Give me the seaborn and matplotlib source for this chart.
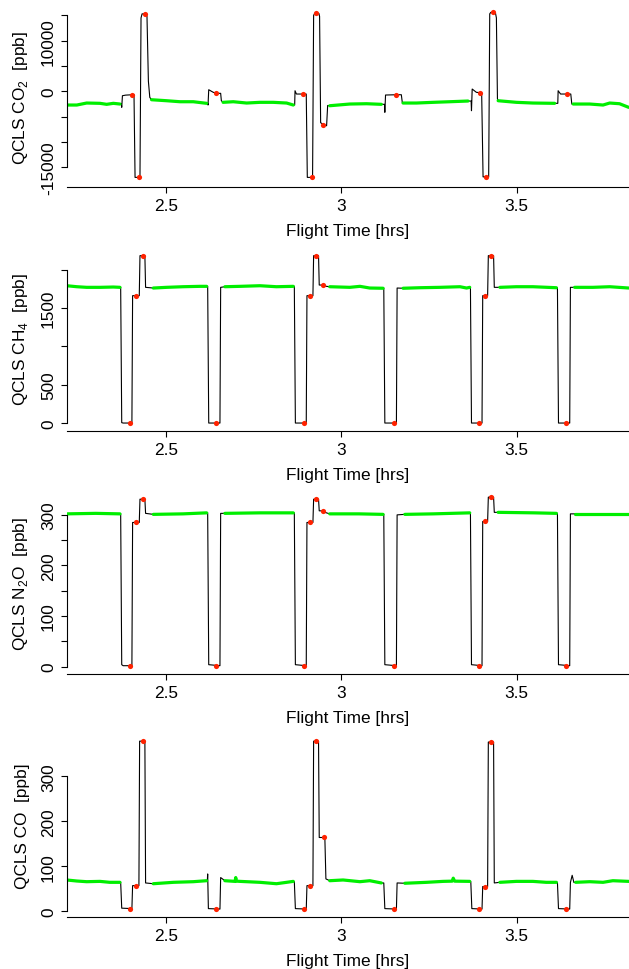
import numpy as np
import pandas as pd
import matplotlib
matplotlib.use("Agg")
import matplotlib.pyplot as plt
import seaborn as sns

# ---------------- data ----------------
# CO2 [ppb]: black trace knots
co2_t = [2.217, 2.246, 2.274, 2.312, 2.331, 2.350, 2.369,
         2.373, 2.374, 2.376, 2.385, 2.405, 2.409, 2.412, 2.426, 2.429, 2.432, 2.443, 2.446, 2.450, 2.454, 2.459,
         2.502, 2.540, 2.578, 2.616,
         2.619, 2.620, 2.622, 2.635, 2.646, 2.656, 2.658, 2.663,
         2.692, 2.730, 2.768, 2.806, 2.844, 2.863,
         2.867, 2.868, 2.872, 2.900, 2.903, 2.918, 2.921, 2.924, 2.936, 2.938, 2.941, 2.950, 2.958, 2.961, 2.967,
         3.024, 3.072, 3.114,
         3.123, 3.124, 3.126, 3.160, 3.171, 3.174, 3.176,
         3.214, 3.262, 3.309, 3.361,
         3.370, 3.371, 3.373, 3.385, 3.400, 3.404, 3.420, 3.423, 3.426, 3.439, 3.442, 3.445, 3.447,
         3.499, 3.546, 3.608,
         3.617, 3.618, 3.625, 3.654, 3.657, 3.661,
         3.708, 3.746, 3.765, 3.793, 3.819]
co2_v = [-2707, -2707, -2312, -2371, -2569, -2371, -2510,
         -2510, -3160, -870, -750, -672, -672, -17000, -17000, 14500, 15300, 15300, 14800, 2000, -1200, -1660,
         -1857, -2055, -2055, -2371,
         -2371, -2707, 316, -198, -395, -395, -1857, -2174,
         -2055, -2312, -2174, -2174, -2312, -2707,
         -2707, 119, -534, -534, -17000, -17000, 15000, 15400, 15400, 14800, -6200, -6600, -6800, -2800, -2845,
         -2510, -2450, -2569,
         -2569, -4150, -731, -672, -672, -2312, -2312,
         -2312, -2174, -2055, -1917,
         -1917, -3833, 454, -198, -300, -16900, -16900, 15300, 15600, 15600, 14500, -1500, -1857,
         -2174, -2312, -2371,
         -2371, 119, -534, -534, -2510, -2510,
         -2510, -2707, -2312, -2450, -3162]
co2_amb = [(2.217, 2.369), (2.459, 2.616), (2.663, 2.863), (2.967, 3.114),
           (3.176, 3.361), (3.447, 3.608), (3.661, 3.819)]
co2_cal_t = [2.402, 2.422, 2.440, 2.644, 2.891, 2.915, 2.929, 2.948, 3.155, 3.395, 3.413, 3.431, 3.642]
co2_cal_v = [-672, -17000, 15300, -395, -534, -17000, 15400, -6600, -672, -300, -16900, 15600, -534]

# CH4 [ppb]
ch4_t = [2.217, 2.246, 2.274, 2.312, 2.350, 2.369,
         2.371, 2.374, 2.378, 2.403, 2.405, 2.424, 2.426, 2.440, 2.442, 2.464,
         2.502, 2.549, 2.597, 2.616,
         2.619, 2.622, 2.654, 2.656, 2.668,
         2.711, 2.768, 2.815, 2.863,
         2.866, 2.869, 2.900, 2.902, 2.919, 2.921, 2.935, 2.937, 2.950, 2.956, 2.967,
         3.024, 3.053, 3.081, 3.119,
         3.121, 3.124, 3.157, 3.159, 3.176,
         3.224, 3.281, 3.338, 3.357, 3.366,
         3.368, 3.371, 3.401, 3.403, 3.417, 3.419, 3.434, 3.436, 3.452,
         3.499, 3.546, 3.613,
         3.616, 3.619, 3.651, 3.653, 3.665,
         3.717, 3.765, 3.819]
ch4_v = [1792, 1779, 1771, 1771, 1775, 1771,
         1771, 5, 0, 0, 1662, 1662, 2184, 2184, 1771, 1762,
         1771, 1779, 1784, 1784,
         1784, 0, 0, 1771, 1779,
         1784, 1792, 1779, 1784,
         1784, 0, 0, 1662, 1662, 2184, 2184, 1801, 1801, 1785, 1779,
         1771, 1784, 1762, 1759,
         1759, 0, 0, 1762, 1759,
         1766, 1771, 1779, 1762, 1771,
         1771, 0, 0, 1662, 1662, 2184, 2184, 1771, 1771,
         1779, 1779, 1766,
         1766, 0, 0, 1771, 1771,
         1771, 1779, 1762]
ch4_amb = [(2.217, 2.369), (2.464, 2.616), (2.668, 2.863), (2.967, 3.119),
           (3.176, 3.366), (3.452, 3.613), (3.665, 3.819)]
ch4_cal_t = [2.399, 2.416, 2.434, 2.644, 2.893, 2.910, 2.927, 2.948, 3.150, 3.392, 3.409, 3.428, 3.641]
ch4_cal_v = [0, 1662, 2184, 0, 0, 1662, 2184, 1801, 0, 0, 1662, 2184, 0]

# N2O [ppb]
n2o_t = [2.217, 2.300, 2.369,
         2.371, 2.374, 2.378, 2.403, 2.405, 2.424, 2.426, 2.440, 2.442, 2.464,
         2.549, 2.616,
         2.619, 2.622, 2.654, 2.656, 2.668,
         2.768, 2.863,
         2.866, 2.869, 2.900, 2.902, 2.919, 2.921, 2.935, 2.937, 2.950, 2.953, 2.967,
         3.050, 3.119,
         3.121, 3.124, 3.157, 3.159, 3.181,
         3.262, 3.366,
         3.368, 3.371, 3.401, 3.403, 3.417, 3.419, 3.434, 3.436, 3.447,
         3.550, 3.613,
         3.616, 3.619, 3.651, 3.653, 3.665,
         3.819]
n2o_v = [302, 303, 302,
         302, 4, 2, 2, 285, 285, 331, 331, 303, 301,
         302, 304,
         304, 4, 2, 303, 303,
         304, 304,
         304, 4, 2, 285, 285, 331, 331, 308, 308, 305, 302,
         302, 301,
         301, 4, 2, 300, 301,
         302, 304,
         304, 4, 2, 287, 287, 335, 335, 305, 305,
         304, 303,
         303, 4, 2, 302, 302,
         302]
n2o_amb = [(2.217, 2.369), (2.464, 2.616), (2.668, 2.863), (2.967, 3.119),
           (3.181, 3.366), (3.447, 3.613), (3.665, 3.819)]
n2o_cal_t = [2.399, 2.416, 2.434, 2.644, 2.893, 2.910, 2.927, 2.948, 3.150, 3.392, 3.409, 3.428, 3.641]
n2o_cal_v = [2, 285, 331, 2, 2, 285, 331, 308, 2, 2, 287, 335, 2]

# CO [ppb]
co_t = [2.217, 2.246, 2.274, 2.312, 2.340, 2.369,
        2.371, 2.374, 2.403, 2.405, 2.423, 2.425, 2.440, 2.442, 2.464,
        2.521, 2.578, 2.616,
        2.618, 2.619, 2.621, 2.654, 2.656, 2.668,
        2.697, 2.699, 2.701, 2.711, 2.768, 2.815, 2.844, 2.863,
        2.866, 2.869, 2.900, 2.902, 2.919, 2.921, 2.935, 2.937, 2.953, 2.956, 2.967,
        3.005, 3.053, 3.081, 3.114,
        3.121, 3.124, 3.157, 3.159, 3.181,
        3.243, 3.290, 3.316, 3.319, 3.323, 3.366,
        3.369, 3.372, 3.401, 3.403, 3.417, 3.419, 3.434, 3.436, 3.452,
        3.499, 3.546, 3.584, 3.613,
        3.616, 3.619, 3.651, 3.653, 3.658, 3.663, 3.668,
        3.708, 3.746, 3.774, 3.819]
co_v = [69.6, 67.3, 65.8, 66.5, 64.4, 64.4,
        64, 7, 6, 57, 57, 378, 378, 63, 61.3,
        64.4, 65.8, 68,
        68, 83, 6, 5, 75, 68,
        66.5, 75, 67, 66.5, 64.4, 61.3, 64.4, 66.5,
        66, 6, 5, 57, 57, 378, 378, 164, 164, 72, 68,
        69.6, 65.8, 68, 63,
        63, 6, 5, 63, 62.3,
        64.4, 66.5, 67, 73.6, 67, 66.5,
        66, 6, 5, 55, 55, 376, 376, 63, 64.4,
        66.5, 66.5, 64.4, 64.4,
        64, 6, 5, 64, 80, 64, 64.4,
        65.8, 64.4, 68, 66.5]
co_amb = [(2.217, 2.369), (2.464, 2.616), (2.668, 2.863), (2.967, 3.114),
          (3.181, 3.366), (3.452, 3.613), (3.668, 3.819)]
co_cal_t = [2.399, 2.416, 2.434, 2.644, 2.893, 2.910, 2.927, 2.950, 3.150, 3.392, 3.409, 3.428, 3.641]
co_cal_v = [6, 57, 378, 5, 5, 57, 378, 164, 5, 5, 55, 376, 5]

x_ticks = [2.5, 3, 3.5]
x_ticklabels = ["2.5", "3", "3.5"]

# ---------------- style ----------------
sns.set_style("ticks")
plt.rcParams["font.family"] = ["Liberation Sans", "DejaVu Sans"]
plt.rcParams["font.size"] = 12.4
plt.rcParams["axes.linewidth"] = 0.8
for key in ["text.color", "axes.labelcolor", "xtick.color", "ytick.color", "axes.edgecolor"]:
    plt.rcParams[key] = "black"

W, H = 629, 970
fig = plt.figure(figsize=(W / 100, H / 100), dpi=100)

# (trace, ambient windows, cal points, ylabel, ylim, y top/bottom in px, ticks, labels)
panels = [
    (co2_t, co2_v, co2_amb, co2_cal_t, co2_cal_v,
     r"QCLS CO$_\mathregular{2}$  [ppb]", (-18900, 16500), (8.8, 188.0),
     [-15000, -10000, -5000, 0, 5000, 10000, 15000], ["-15000", "", "", "0", "", "10000", ""]),
    (ch4_t, ch4_v, ch4_amb, ch4_cal_t, ch4_cal_v,
     r"QCLS CH$_\mathregular{4}$  [ppb]", (-100, 2300), (247.8, 431.7),
     [0, 500, 1000, 1500, 2000], ["0", "500", "", "1500", ""]),
    (n2o_t, n2o_v, n2o_amb, n2o_cal_t, n2o_cal_v,
     r"QCLS N$_\mathregular{2}$O  [ppb]", (-14.4, 345), (493.1, 675.0),
     [0, 50, 100, 150, 200, 250, 300], ["0", "", "100", "", "200", "", "300"]),
    (co_t, co_v, co_amb, co_cal_t, co_cal_v,
     "QCLS CO  [ppb]", (-13.3, 395), (734.5, 918.3),
     [0, 100, 200, 300], ["0", "100", "200", "300"]),
]

x0, x1 = 67, 629
for t, v, amb, cal_t, cal_v, ylab, ylim, (ytop, ybot), yt, ytl in panels:
    ax = fig.add_axes([x0 / W, 1 - ybot / H, (x1 - x0) / W, (ybot - ytop) / H])
    ax.set_facecolor("none")

    df = pd.DataFrame({"t": t, "v": v})
    seg = np.full(len(df), -1)
    for i, (a, b) in enumerate(amb):
        seg[(df["t"] >= a - 1e-9) & (df["t"] <= b + 1e-9)] = i
    green = df[seg >= 0].assign(seg=seg[seg >= 0])

    sns.lineplot(data=df, x="t", y="v", ax=ax, color="black", lw=0.8,
                 estimator=None, sort=False)
    sns.lineplot(data=green, x="t", y="v", units="seg", ax=ax, color="#00ee00",
                 lw=2.3, estimator=None, sort=False)
    sns.scatterplot(x=cal_t, y=cal_v, ax=ax, color="#ff2200", s=14,
                    linewidth=0, zorder=5)

    ax.set_xlim(2.218, 3.82)
    ax.set_ylim(*ylim)
    ax.set_xticks(x_ticks)
    ax.set_xticklabels(x_ticklabels)
    ax.set_yticks(yt)
    ax.set_yticklabels(ytl)
    for lab in ax.get_yticklabels():
        lab.set_rotation(90)
        lab.set_va("center")

    sns.despine(ax=ax)
    ax.spines["left"].set_bounds(yt[0], yt[-1])
    ax.tick_params(axis="both", length=4, width=0.8, color="black",
                   labelsize=12.4, pad=4)
    ax.set_xlabel("Flight Time [hrs]", fontsize=12.4, labelpad=7)
    ax.set_ylabel(ylab, fontsize=12.4)
    ax.yaxis.set_label_coords((30.0 - x0) / (x1 - x0), 0.5)

fig.savefig("out.png", dpi=100)
